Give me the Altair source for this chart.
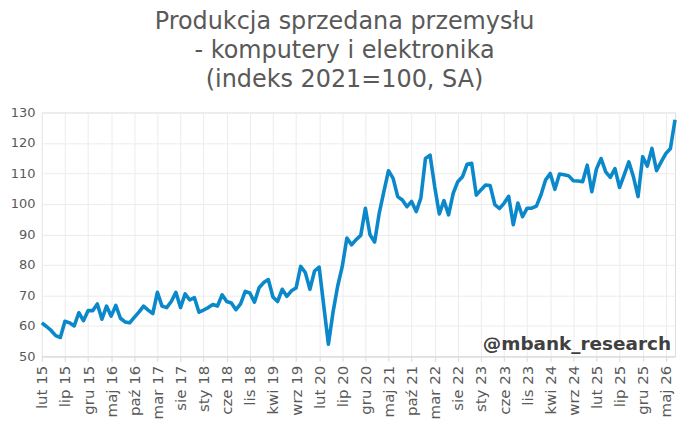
import altair as alt
import pandas as pd

# Monthly index values, Feb 2015 (lut 15) onward
values = [61.0, 59.8, 58.5, 56.8, 56.2, 61.5, 61.0, 60.0, 64.3, 61.7,
          65.0, 65.0, 67.2, 62.2, 66.5, 63.2, 66.7, 62.5, 61.3, 61.0,
          62.8, 64.5, 66.5, 65.2, 64.0, 71.0, 66.5, 66.0, 68.0, 71.0,
          66.0, 70.5, 68.5, 69.3, 64.5, 65.2, 66.0, 67.0, 66.5, 70.2,
          68.0, 67.5, 65.3, 67.2, 71.3, 70.8, 67.8, 72.5, 74.2, 75.2,
          69.5, 68.0, 72.0, 69.7, 71.5, 72.4, 79.5, 77.5, 72.0, 78.0,
          79.3, 66.5, 54.0, 64.5, 73.0, 79.5, 88.8, 86.6, 88.3, 89.7,
          98.6, 89.9, 87.5, 97.0, 104.0, 110.9, 108.4, 102.4, 101.3, 99.1,
          100.8, 97.5, 101.9, 114.9, 116.0, 105.6, 96.7, 101.1, 96.4, 103.5,
          107.3, 108.9, 113.0, 113.3, 102.9, 104.6, 106.2, 106.0, 99.8, 98.5,
          100.2, 102.5, 93.2, 100.3, 95.8, 98.6, 98.6, 99.3, 103.0, 107.9,
          110.0, 104.8, 109.8, 109.6, 109.2, 107.6, 107.5, 107.3, 112.7, 104.0,
          111.5, 114.9, 110.5, 108.7, 111.6, 105.4, 109.5, 113.8, 108.9, 102.4,
          115.5, 112.4, 118.2, 110.9, 113.8, 116.5, 118.2, 127.6]

tick_labels = ["lut 15", "lip 15", "gru 15", "maj 16", "paź 16", "mar 17", "sie 17",
               "sty 18", "cze 18", "lis 18", "kwi 19", "wrz 19", "lut 20", "lip 20",
               "gru 20", "maj 21", "paź 21", "mar 22", "sie 22", "sty 23", "cze 23",
               "lis 23", "kwi 24", "wrz 24", "lut 25", "lip 25", "gru 25", "maj 26"]
tick_step = 5
y_ticks = [50, 60, 70, 80, 90, 100, 110, 120, 130]

title_lines = ["Produkcja sprzedana przemysłu", "- komputery i elektronika", "(indeks 2021=100, SA)"]
watermark = "@mbank_research"

df = pd.DataFrame({"i": list(range(len(values))), "v": values})

label_array = "[" + ",".join("'" + t + "'" for t in tick_labels) + "]"
tick_values = [k * tick_step for k in range(len(tick_labels))]

FONT = "DejaVu Sans"
GRAY = "#595959"
GRID = "#ececec"

line = alt.Chart(df).mark_line(color="#0a88c9", strokeWidth=3.6, strokeJoin="round").encode(
    x=alt.X("i:Q",
            scale=alt.Scale(domain=[0, len(values) - 1], nice=False, zero=False),
            axis=alt.Axis(values=tick_values, labelExpr=label_array + "[floor(datum.value/5)]",
                          labelAngle=-90, labelFontSize=15, labelColor=GRAY, labelFont=FONT,
                          tickColor="#d9d9d9", tickSize=5, domainColor="#d9d9d9",
                          gridColor=GRID, grid=True, title=None, labelPadding=4,
                          labelOverlap=False)),
    y=alt.Y("v:Q",
            scale=alt.Scale(domain=[50, 130], nice=False, zero=False),
            axis=alt.Axis(values=y_ticks, labelFontSize=13, labelColor=GRAY, labelFont=FONT,
                          ticks=False, domain=False, gridColor=GRID, title=None,
                          labelPadding=7)),
)

wm = alt.Chart(pd.DataFrame({"t": [watermark]})).mark_text(
    font=FONT, fontSize=18.5, fontWeight="bold", color="#404040", align="right", baseline="middle"
).encode(text="t:N", x=alt.value(632), y=alt.value(233))

chart = alt.layer(line, wm).properties(
    width=636, height=245,
    autosize="none",
    padding={"left": 34, "top": 104, "right": 10, "bottom": 67},
    title=alt.Title(text=title_lines, anchor="middle", dx=-14, fontSize=24, font=FONT,
                    fontWeight="normal", color=GRAY, lineHeight=29, offset=15),
).configure_view(stroke=None).configure(background="white")

chart.save("out.html", embed_options={"renderer": "svg", "actions": False})
